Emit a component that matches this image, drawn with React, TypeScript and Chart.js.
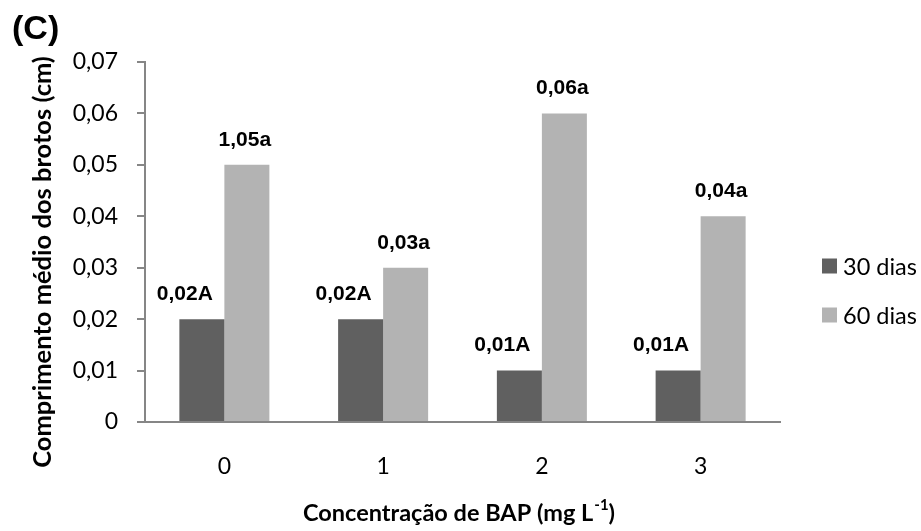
import React, { useEffect, useRef } from "react";
import { Chart, registerables } from "chart.js";

Chart.register(...registerables);

const categories = ["0", "1", "2", "3"];
const seriesNames = ["30 dias", "60 dias"];
const series30 = [0.02, 0.02, 0.01, 0.01];
const series60 = [0.05, 0.03, 0.06, 0.04];
const labels30 = ["0,02A", "0,02A", "0,01A", "0,01A"];
const labels60 = ["1,05a", "0,03a", "0,06a", "0,04a"];
const yMax = 0.07;
const yStep = 0.01;
const colors = ["#606060", "#b3b3b3"];
const panelTitle = "(C)";
const yTitle = "Comprimento médio dos brotos (cm)";
const xTitleMain = "Concentração de BAP (mg L";
const xTitleSup = "-1";
const xTitleEnd = ")";

const AXIS_COLOR = "#868686";

const extrasPlugin = {
  id: "extras",
  afterDatasetsDraw(chart: any) {
    const ctx = chart.ctx;
    const labelSets = [labels30, labels60];
    const offsets = [-17, -2];
    ctx.save();
    ctx.fillStyle = "#000";
    ctx.font = "bold 21px 'Liberation Sans', Arial, sans-serif";
    ctx.textAlign = "center";
    ctx.textBaseline = "middle";
    chart.data.datasets.forEach((_: any, di: number) => {
      const meta = chart.getDatasetMeta(di);
      meta.data.forEach((el: any, i: number) => {
        ctx.fillText(labelSets[di][i], el.x + offsets[di], el.y - 25);
      });
    });
    ctx.restore();
  },
  afterDraw(chart: any) {
    const ctx = chart.ctx;
    ctx.save();
    // panel title
    ctx.fillStyle = "#000";
    ctx.font = "bold 34px 'Liberation Sans', Arial, sans-serif";
    ctx.textAlign = "left";
    ctx.textBaseline = "middle";
    ctx.fillText(panelTitle, 12, 30);

    // y title
    ctx.save();
    ctx.translate(43, 262);
    ctx.rotate(-Math.PI / 2);
    ctx.font = "bold 25.5px Lato, sans-serif";
    ctx.textAlign = "center";
    ctx.textBaseline = "middle";
    ctx.fillText(yTitle, 0, 0);
    ctx.restore();

    // legend
    ctx.font = "23.5px Lato, sans-serif";
    const ys = [266, 315];
    chart.data.datasets.forEach((ds: any, i: number) => {
      ctx.fillStyle = ds.backgroundColor;
      ctx.fillRect(822, ys[i] - 7.5, 15, 15);
      ctx.fillStyle = "#000";
      ctx.textAlign = "left";
      ctx.fillText(ds.label, 843, ys[i] + 1);
    });

    // x title with superscript
    const area = chart.chartArea;
    const cx = (area.left + area.right) / 2 - 4;
    const mainFont = "bold 23.5px Lato, sans-serif";
    const supFont = "bold 15px Lato, sans-serif";
    ctx.font = mainFont;
    const w1 = ctx.measureText(xTitleMain).width;
    const w3 = ctx.measureText(xTitleEnd).width;
    ctx.font = supFont;
    const w2 = ctx.measureText(xTitleSup).width;
    let x = cx - (w1 + w2 + w3) / 2;
    const y = 513;
    ctx.textAlign = "left";
    ctx.textBaseline = "middle";
    ctx.font = mainFont;
    ctx.fillText(xTitleMain, x, y);
    x += w1;
    ctx.font = supFont;
    ctx.fillText(xTitleSup, x + 1, y - 8);
    x += w2 + 1;
    ctx.font = mainFont;
    ctx.fillText(xTitleEnd, x, y);
    ctx.restore();
  },
};

export default function App() {
  const ref = useRef<HTMLCanvasElement | null>(null);
  useEffect(() => {
    if (!ref.current) return;
    const chart = new Chart(ref.current, {
      type: "bar",
      data: {
        labels: categories,
        datasets: [
          { label: seriesNames[0], data: series30, backgroundColor: colors[0], borderWidth: 0 },
          { label: seriesNames[1], data: series60, backgroundColor: colors[1], borderWidth: 0 },
        ],
      },
      options: {
        animation: false,
        responsive: true,
        maintainAspectRatio: false,
        layout: { padding: { top: 62, right: 141, left: 0, bottom: 0 } },
        datasets: { bar: { categoryPercentage: 0.567, barPercentage: 1 } },
        plugins: { legend: { display: false }, tooltip: { enabled: false }, title: { display: false } },
        scales: {
          x: {
            grid: { display: false },
            border: { display: true, color: AXIS_COLOR, width: 2 },
            ticks: { color: "#000", font: { family: "Lato", size: 23 }, padding: 23 },
            afterFit: (s: any) => { s.height = 109; },
          },
          y: {
            min: 0,
            max: yMax,
            ticks: {
              stepSize: yStep,
              color: "#000",
              font: { family: "Lato", size: 23 },
              padding: 19,
              callback: (v: any) => (Number(v) === 0 ? "0" : Number(v).toFixed(2).replace(".", ",")),
            },
            grid: { display: true, drawOnChartArea: false, drawTicks: true, tickLength: 8, color: AXIS_COLOR, lineWidth: 2 },
            border: { display: true, color: AXIS_COLOR, width: 2 },
            title: { display: false },
            afterFit: (s: any) => { s.width = 145; },
          },
        },
      },
      plugins: [extrasPlugin],
    });
    return () => chart.destroy();
  }, []);
  return (
    <div style={{ position: "fixed", left: 0, top: 0, width: 921, height: 531, background: "#fff" }}>
      <canvas ref={ref} />
    </div>
  );
}
